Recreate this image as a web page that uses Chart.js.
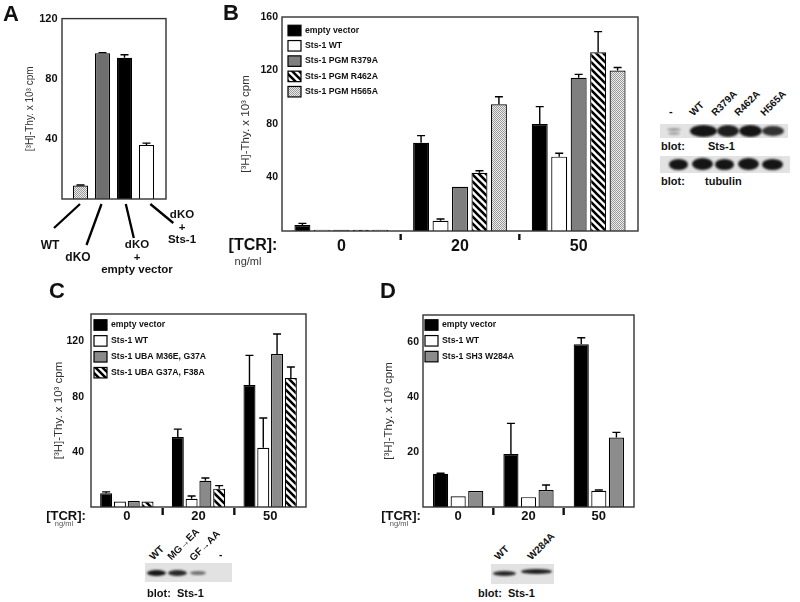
<!DOCTYPE html>
<html>
<head>
<meta charset="utf-8">
<script src="https://cdn.jsdelivr.net/npm/chart.js@4.4.1/dist/chart.umd.min.js"></script>
<style>
  html, body { margin: 0; padding: 0; background: #fff; }
  #page { position: relative; width: 800px; height: 602px; overflow: hidden; font-family: "Liberation Sans", Arial, sans-serif; color: #111; }
  #page canvas { position: absolute; }
  .t { position: absolute; white-space: nowrap; line-height: 1; }
  .c { transform: translate(-50%, -50%); text-align: center; }
  .rot { transform-origin: 0 100%; transform: rotate(-45deg); font-weight: bold; font-size: 10px; }
  .blot { position: absolute; background: #e2e2e2; overflow: hidden; }
  .band { position: absolute; background: #151515; border-radius: 50%; filter: blur(0.8px); }
</style>
</head>
<body>
<div id="page">
  <canvas id="chartA" width="200" height="250" style="left:0;top:0"></canvas>
  <canvas id="chartB" width="440" height="262" style="left:200px;top:0"></canvas>
  <canvas id="chartC" width="310" height="230" style="left:0;top:300px"></canvas>
  <canvas id="chartD" width="260" height="230" style="left:380px;top:300px"></canvas>
</div>
<script>
// ---- Panel A: 3H-thymidine, WT vs dKO ----
const labelsA = ['WT', 'dKO', 'dKO + empty vector', 'dKO + Sts-1'];
const valuesA = [9, 97, 94, 36];
const errorsA = [0.3, 0.4, 2, 1.2];

// ---- Panel B: PGM mutants ----
const dosesB = ['0', '20', '50'];
const seriesB = ['empty vector', 'Sts-1 WT', 'Sts-1 PGM R379A', 'Sts-1 PGM R462A', 'Sts-1 PGM H565A'];
const emptyB = [4.5, 66, 80];
const emptyErrB = [1.2, 5.3, 13];
const wtB = [1, 7.7, 55.6];
const wtErrB = [0, 1.3, 2.5];
const r379aB = [1, 33, 114.5];
const r379aErrB = [0, 0, 2.6];
const r462aB = [1, 43.6, 133.6];
const r462aErrB = [0, 1.5, 15.5];
const h565aB = [1, 94.7, 120];
const h565aErrB = [0, 5.7, 2.2];

// ---- Panel C: UBA mutants ----
const dosesC = ['0', '20', '50'];
const seriesC = ['empty vector', 'Sts-1 WT', 'Sts-1 UBA M36E, G37A', 'Sts-1 UBA G37A, F38A'];
const emptyC = [9.9, 50.8, 88.5];
const emptyErrC = [1.1, 5.7, 21.5];
const wtC = [3.9, 6, 43];
const wtErrC = [0, 2, 21.6];
const m36eC = [4.3, 19, 111];
const m36eErrC = [0, 2, 14.5];
const g37aC = [3.9, 13.3, 93.6];
const g37aErrC = [0, 2.2, 8];

// ---- Panel D: SH3 mutant ----
const dosesD = ['0', '20', '50'];
const seriesD = ['empty vector', 'Sts-1 WT', 'Sts-1 SH3 W284A'];
const emptyD = [12.1, 19.3, 59.3];
const emptyErrD = [0.2, 11.2, 2.4];
const wtD = [3.9, 3.6, 5.9];
const wtErrD = [0, 0, 0.3];
const w284aD = [5.8, 6.2, 25.3];
const w284aErrD = [0, 1.8, 1.9];

const yTitle = '[³H]-Thy. x 10³ cpm';

Chart.defaults.font.family = '"Liberation Sans", Arial, sans-serif';
Chart.defaults.animation = false;

// fill patterns
function makeHatch() {
  const c = document.createElement('canvas');
  c.width = 7; c.height = 7;
  const g = c.getContext('2d');
  g.fillStyle = '#fff'; g.fillRect(0, 0, 7, 7);
  g.strokeStyle = '#000'; g.lineWidth = 2.6;
  g.beginPath();
  for (let k = -1; k <= 1; k++) {
    g.moveTo(-1, k * 7 - 1);
    g.lineTo(8, k * 7 + 8);
  }
  g.stroke();
  return g.createPattern(c, 'repeat');
}
function makeSpeckle() {
  const c = document.createElement('canvas');
  c.width = 2; c.height = 2;
  const g = c.getContext('2d');
  g.fillStyle = '#ececec'; g.fillRect(0, 0, 2, 2);
  g.fillStyle = '#9a9a9a'; g.fillRect(0, 0, 1, 1); g.fillRect(1, 1, 1, 1);
  return g.createPattern(c, 'repeat');
}
const hatch = makeHatch();
const speckle = makeSpeckle();

// error whiskers (upper only)
const errorBars = {
  id: 'errorBars',
  afterDatasetsDraw(chart) {
    const ctx = chart.ctx, y = chart.scales.y;
    chart.data.datasets.forEach((ds, i) => {
      if (!ds.errors) return;
      chart.getDatasetMeta(i).data.forEach((bar, j) => {
        const e = ds.errors[j];
        if (!e) return;
        const top = y.getPixelForValue(ds.data[j] + e);
        ctx.save();
        ctx.strokeStyle = '#000';
        ctx.lineWidth = 1.4;
        ctx.beginPath();
        ctx.moveTo(bar.x, bar.y);
        ctx.lineTo(bar.x, top);
        ctx.moveTo(bar.x - 4, top);
        ctx.lineTo(bar.x + 4, top);
        ctx.stroke();
        ctx.restore();
      });
    });
  }
};

// box round the plot
const frame = {
  id: 'frame',
  afterDatasetsDraw(chart, args, o) {
    const a = chart.chartArea, ctx = chart.ctx;
    const pl = o.padL || 0, pr = o.padR || 0;
    ctx.save();
    ctx.strokeStyle = '#333';
    ctx.lineWidth = 1.4;
    ctx.strokeRect(a.left - pl, a.top, a.width + pl + pr, a.height);
    ctx.restore();
  }
};

// short marks between dose groups
const groupTicks = {
  id: 'groupTicks',
  afterDraw(chart, args, o) {
    const x = chart.scales.x, b = chart.chartArea.bottom, ctx = chart.ctx;
    ctx.save();
    ctx.strokeStyle = '#111';
    ctx.lineWidth = 2.4;
    for (let i = 1; i < x.ticks.length; i++) {
      const px = (x.getPixelForValue(i - 1) + x.getPixelForValue(i)) / 2;
      ctx.beginPath();
      ctx.moveTo(px, b + o.from);
      ctx.lineTo(px, b + o.to);
      ctx.stroke();
    }
    ctx.restore();
  }
};

// legend drawn inside the plot, top left
const boxLegend = {
  id: 'boxLegend',
  afterDraw(chart, args, o) {
    const ctx = chart.ctx, a = chart.chartArea;
    ctx.save();
    ctx.font = 'bold ' + o.size + 'px "Liberation Sans", Arial, sans-serif';
    ctx.textBaseline = 'middle';
    chart.data.datasets.forEach((ds, i) => {
      const cy = a.top + o.dy + i * o.pitch;
      const x = a.left + o.dx;
      ctx.fillStyle = ds.backgroundColor;
      ctx.fillRect(x, cy - o.h / 2, o.w, o.h);
      ctx.strokeStyle = '#000';
      ctx.lineWidth = 1.2;
      ctx.strokeRect(x, cy - o.h / 2, o.w, o.h);
      ctx.fillStyle = '#111';
      ctx.fillText(ds.label, x + o.w + 4, cy);
    });
    ctx.restore();
  }
};

// slanted pointer lines under panel A
const pointers = {
  id: 'pointers',
  afterDraw(chart, args, o) {
    const x = chart.scales.x, b = chart.chartArea.bottom, ctx = chart.ctx;
    ctx.save();
    ctx.strokeStyle = '#000';
    ctx.lineWidth = 2.3;
    o.ends.forEach((e, i) => {
      const px = x.getPixelForValue(i);
      ctx.beginPath();
      ctx.moveTo(px + e[0], b + 5);
      ctx.lineTo(px + e[1], b + e[2]);
      ctx.stroke();
    });
    ctx.restore();
  }
};

function yAxis(max, step, width, tickSize, tickPad, titleSize) {
  return {
    min: 0, max: max,
    grid: { display: false, drawTicks: false },
    border: { display: false },
    ticks: {
      stepSize: step,
      padding: tickPad,
      color: '#111',
      font: { size: tickSize, weight: 'bold' },
      callback: v => (v === 0 || v % step) ? '' : v
    },
    title: { display: true, text: yTitle, color: '#333', padding: 0, font: { size: titleSize } },
    afterFit: s => { s.width = width; }
  };
}

function xAxis(height, size, pad) {
  return {
    grid: { display: false, drawTicks: false },
    border: { display: false },
    ticks: { padding: pad, color: '#111', maxRotation: 0, autoSkip: false, font: { size: size, weight: 'bold' } },
    afterFit: s => { s.height = height; }
  };
}

function bars(label, data, errors, fill) {
  return { label: label, data: data, errors: errors, backgroundColor: fill, borderColor: '#000', borderWidth: 1.2 };
}

// Panel A
new Chart(document.getElementById('chartA'), {
  type: 'bar',
  data: {
    labels: labelsA,
    datasets: [{
      data: valuesA,
      errors: errorsA,
      backgroundColor: [speckle, '#6f6f6f', '#000', '#fff'],
      borderColor: '#000',
      borderWidth: 1.2,
      categoryPercentage: 1,
      barPercentage: 0.69
    }]
  },
  options: {
    responsive: false,
    layout: { padding: { left: 24, right: 42.5, top: 14, bottom: 51 } },
    scales: {
      x: { display: false },
      y: yAxis(120, 40, 45.5, 11, 12, 10)
    },
    plugins: {
      legend: { display: false },
      tooltip: { enabled: false },
      frame: { padL: 7.5, padR: 8.5 },
      pointers: { ends: [[-0.5, -26.5, 29], [-1, -16, 46], [1.3, 9.3, 39], [3.8, 26.8, 24]] }
    }
  },
  plugins: [errorBars, frame, pointers]
});

// Panel B
new Chart(document.getElementById('chartB'), {
  type: 'bar',
  data: {
    labels: dosesB,
    datasets: [
      bars(seriesB[0], emptyB, emptyErrB, '#000'),
      bars(seriesB[1], wtB, wtErrB, '#fff'),
      bars(seriesB[2], r379aB, r379aErrB, '#7f7f7f'),
      bars(seriesB[3], r462aB, r462aErrB, hatch),
      bars(seriesB[4], h565aB, h565aErrB, speckle)
    ]
  },
  options: {
    responsive: false,
    datasets: { bar: { categoryPercentage: 0.82, barPercentage: 0.82 } },
    layout: { padding: { left: 39, right: 2, top: 17, bottom: 0 } },
    scales: {
      x: xAxis(31, 16, 6),
      y: yAxis(160, 40, 43, 10.5, 4, 11.5)
    },
    plugins: {
      legend: { display: false },
      tooltip: { enabled: false },
      frame: {},
      groupTicks: { from: 3, to: 9 },
      boxLegend: { dx: 6, dy: 13.5, pitch: 15.3, w: 13, h: 10.5, size: 8.7 }
    }
  },
  plugins: [errorBars, frame, groupTicks, boxLegend]
});

// Panel C
new Chart(document.getElementById('chartC'), {
  type: 'bar',
  data: {
    labels: dosesC,
    datasets: [
      bars(seriesC[0], emptyC, emptyErrC, '#000'),
      bars(seriesC[1], wtC, wtErrC, '#fff'),
      bars(seriesC[2], m36eC, m36eErrC, '#8a8a8a'),
      bars(seriesC[3], g37aC, g37aErrC, hatch)
    ]
  },
  options: {
    responsive: false,
    datasets: { bar: { categoryPercentage: 0.77, barPercentage: 0.87 } },
    layout: { padding: { left: 52, right: 4, top: 14, bottom: 0 } },
    scales: {
      x: xAxis(23, 13, 2),
      y: yAxis(140, 40, 39, 10.5, 7, 11.5)
    },
    plugins: {
      legend: { display: false },
      tooltip: { enabled: false },
      frame: {},
      groupTicks: { from: 1, to: 8 },
      boxLegend: { dx: 3, dy: 11, pitch: 15.9, w: 13, h: 10.5, size: 8.7 }
    }
  },
  plugins: [errorBars, frame, groupTicks, boxLegend]
});

// Panel D
new Chart(document.getElementById('chartD'), {
  type: 'bar',
  data: {
    labels: dosesD,
    datasets: [
      bars(seriesD[0], emptyD, emptyErrD, '#000'),
      bars(seriesD[1], wtD, wtErrD, '#fff'),
      bars(seriesD[2], w284aD, w284aErrD, '#8c8c8c')
    ]
  },
  options: {
    responsive: false,
    datasets: { bar: { categoryPercentage: 0.75, barPercentage: 0.86 } },
    layout: { padding: { left: 2, right: 6, top: 15, bottom: 0 } },
    scales: {
      x: xAxis(23, 13, 2),
      y: yAxis(70, 20, 41, 10.5, 4, 11.5)
    },
    plugins: {
      legend: { display: false },
      tooltip: { enabled: false },
      frame: {},
      groupTicks: { from: 1, to: 8 },
      boxLegend: { dx: 2, dy: 10, pitch: 15.8, w: 13, h: 10.5, size: 8.7 }
    }
  },
  plugins: [errorBars, frame, groupTicks, boxLegend]
});

// ---- text and blots around the charts ----
const page = document.getElementById('page');
function text(html, x, y, css, cls) {
  const d = document.createElement('div');
  d.className = 't ' + (cls || '');
  d.innerHTML = html;
  d.style.left = x + 'px';
  d.style.top = y + 'px';
  if (css) d.style.cssText += css;
  page.appendChild(d);
  return d;
}
function lane(txt, x, yBottom) {
  text(txt, x, yBottom - 10, '', 'rot');
}
function blot(x, y, w, h, bands) {
  const b = document.createElement('div');
  b.className = 'blot';
  b.style.cssText = 'left:' + x + 'px;top:' + y + 'px;width:' + w + 'px;height:' + h + 'px';
  bands.forEach(k => {
    const d = document.createElement('div');
    d.className = 'band';
    d.style.cssText = 'left:' + k[0] + 'px;top:' + k[1] + 'px;width:' + k[2] + 'px;height:' + k[3] + 'px;opacity:' + k[4];
    b.appendChild(d);
  });
  page.appendChild(b);
}

const letter = 'font-weight:bold;font-size:22px;';
text('A', 3, 3, letter);
text('B', 223, 2, letter);
text('C', 49, 280, letter);
text('D', 380, 280, letter);

// panel A labels
const labA = 'font-weight:bold;font-size:12px;line-height:12.5px;';
text('WT', 50, 245, labA, 'c');
text('dKO', 78, 257, labA, 'c');
text('dKO<br>+<br>empty vector', 137, 257, labA + 'font-size:11.5px;', 'c');
text('dKO<br>+<br>Sts-1', 182, 227, labA + 'font-size:11.5px;', 'c');

// [TCR] labels
text('[TCR]:', 253, 245, 'font-weight:bold;font-size:16px;', 'c');
text('ng/ml', 248, 261, 'font-size:11px;color:#333;', 'c');
text('[TCR]:', 66, 515, 'font-weight:bold;font-size:13px;', 'c');
text('ng/ml', 64, 524, 'font-size:7.5px;color:#555;', 'c');
text('[TCR]:', 401, 515, 'font-weight:bold;font-size:13px;', 'c');
text('ng/ml', 399, 524, 'font-size:7.5px;color:#555;', 'c');

// blot B
text('-', 669, 106, 'font-weight:bold;font-size:11px;');
lane('WT', 695, 118);
lane('R379A', 717, 118);
lane('R462A', 740, 118);
lane('H565A', 766, 118);
blot(660, 124, 128, 14, [[7, 4, 14, 3, 0.35], [8, 8, 12, 3, 0.3], [30, 1, 27, 12, 1], [57, 1, 22, 12, 0.95], [79, 1, 23, 12, 1], [102, 2, 22, 10, 0.85]]);
text('blot:', 661, 146, 'font-weight:bold;font-size:11px;transform:translateY(-50%);');
text('Sts-1', 708, 146, 'font-weight:bold;font-size:11px;transform:translateY(-50%);');
blot(660, 156, 130, 17, [[9, 3, 19, 11, 1], [32, 2, 21, 12, 1], [55, 3, 19, 11, 1], [78, 2, 21, 12, 1], [102, 3, 21, 11, 1]]);
text('blot:', 661, 181, 'font-weight:bold;font-size:11px;transform:translateY(-50%);');
text('tubulin', 705, 181, 'font-weight:bold;font-size:11px;transform:translateY(-50%);');

// blot C
lane('WT', 155, 562);
lane('MG→EA', 173, 562);
lane('GF→AA', 195, 563);
text('-', 219, 550, 'font-weight:bold;font-size:10px;');
blot(145, 563, 87, 19, [[2, 7, 19, 6, 1], [23, 7, 19, 6, 0.9], [45, 8, 16, 4, 0.55]]);
text('blot:', 147, 593, 'font-weight:bold;font-size:11px;transform:translateY(-50%);');
text('Sts-1', 177, 593, 'font-weight:bold;font-size:11px;transform:translateY(-50%);');

// blot D
lane('WT', 500, 562);
lane('W284A', 533, 562);
blot(491, 564, 63, 20, [[2, 7, 23, 5, 0.9], [30, 5, 31, 5, 0.95]]);
text('blot:&nbsp;&nbsp;Sts-1', 478, 593, 'font-weight:bold;font-size:11px;transform:translateY(-50%);');
</script>
</body>
</html>
